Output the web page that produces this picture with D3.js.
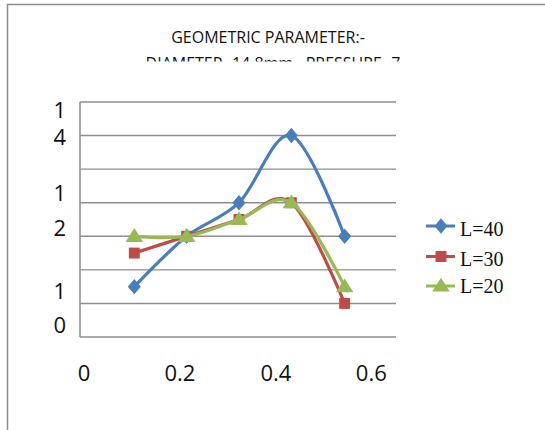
<!DOCTYPE html>
<html>
<head>
<meta charset="utf-8">
<script src="https://cdn.jsdelivr.net/npm/d3@7/dist/d3.min.js"></script>
<style>
  html, body { margin: 0; padding: 0; background: #fff; }
  svg { display: block; }
</style>
</head>
<body>
<svg id="chart" width="545" height="430"></svg>
<script>
// Flow position (x) and response (y) for three lengths
const xValues = [0.11, 0.218, 0.326, 0.434, 0.544];
const seriesNames = ["L=40", "L=30", "L=20"];
const valuesL40 = [3, 6, 8, 12, 6];
const valuesL30 = [5, 6, 7, 8, 2];
const valuesL20 = [6, 6, 7, 8, 3];
const xTicks = [0, 0.2, 0.4, 0.6];
const xTickLabels = ["0", "0.2", "0.4", "0.6"];
const yGridValues = [0, 2, 4, 6, 8, 10, 12, 14];
// y-axis labels wrap into two lines each in the narrow axis column
const yTickLabels = ["14", "12", "10"];
const titleLines = ["GEOMETRIC PARAMETER:-", "DIAMETER -14.8mm , PRESSURE -7"];

const colors = ["#4A7EBB", "#BE4B48", "#98B954"];
const allValues = [valuesL40, valuesL30, valuesL20];

const svg = d3.select("#chart");

// outer frame (left and top edges)
svg.append("path")
  .attr("d", "M7.5,430 V4.5 H545")
  .attr("fill", "none")
  .attr("stroke", "#8c8c8c")
  .attr("stroke-width", 1.5);

const plot = { left: 80, right: 396, top: 102, bottom: 337 };
const x = d3.scaleLinear().domain([0, 0.65]).range([plot.left + 1, plot.right]);
const y = d3.scaleLinear().domain([0, 14]).range([plot.bottom, plot.top]);

// title, second line clipped by the plot block
svg.append("defs").append("clipPath").attr("id", "titleClip")
  .append("rect").attr("x", 0).attr("y", 0).attr("width", 545).attr("height", 61.5);
const title = svg.append("g").attr("clip-path", "url(#titleClip)");
titleLines.forEach((t, i) => {
  title.append("text")
    .attr("x", 268 + i * 5)
    .attr("y", 42.5 + i * 26)
    .attr("text-anchor", "middle")
    .attr("font-family", "'Open Sans', sans-serif")
    .attr("font-size", 16)
    .attr("fill", "#111")
    .text(t);
});

// horizontal gridlines
svg.append("g").selectAll("line").data(yGridValues).join("line")
  .attr("x1", plot.left).attr("x2", plot.right)
  .attr("y1", d => y(d)).attr("y2", d => y(d))
  .attr("stroke", "#8e8e8e")
  .attr("stroke-width", 1.4);

// left axis line
svg.append("line")
  .attr("x1", plot.left).attr("x2", plot.left)
  .attr("y1", plot.top).attr("y2", plot.bottom)
  .attr("stroke", "#8e8e8e")
  .attr("stroke-width", 1.5);

// x axis tick labels
const xAxis = d3.axisBottom(x).tickValues(xTicks)
  .tickFormat((d, i) => xTickLabels[i]).tickSize(0).tickPadding(0);
const xg = svg.append("g").attr("transform", `translate(0,${plot.bottom})`).call(xAxis);
xg.select(".domain").remove();
xg.selectAll("text")
  .attr("dy", null)
  .attr("y", 44)
  .attr("dx", (d, i) => [2.5, 1.5, 0.5, -1][i])
  .attr("font-family", "'Open Sans', sans-serif")
  .attr("font-size", 22)
  .attr("fill", "#111");

// y axis labels, each split over two lines
const yLabelBaselines = [[118, 145], [201, 236], [299, 333]];
const yLabels = svg.append("g")
  .attr("font-family", "'Open Sans', sans-serif")
  .attr("font-size", 22)
  .attr("fill", "#111")
  .attr("text-anchor", "end");
yTickLabels.forEach((lab, i) => {
  lab.split("").forEach((ch, j) => {
    yLabels.append("text")
      .attr("x", 66)
      .attr("y", yLabelBaselines[i][j])
      .text(ch);
  });
});

// smoothed series lines
const line = d3.line()
  .x((d, i) => x(xValues[i]))
  .y(d => y(d))
  .curve(d3.curveCardinal.tension(0));

const symbols = [d3.symbolDiamond, d3.symbolSquare, d3.symbolTriangle];
const symbolSizes = [95, 120, 110];

function drawMarker(g, k, cx, cy) {
  const sym = d3.symbol().type(symbols[k]).size(symbolSizes[k]);
  const m = g.append("path")
    .attr("d", sym())
    .attr("fill", colors[k]);
  if (k === 0) {
    m.attr("transform", `translate(${cx},${cy}) scale(1.25,0.85)`);
  } else if (k === 2) {
    m.attr("transform", `translate(${cx},${cy + 1}) scale(1.1,1)`);
  } else {
    m.attr("transform", `translate(${cx},${cy})`);
  }
}

allValues.forEach((vals, k) => {
  const g = svg.append("g");
  g.append("path")
    .attr("d", line(vals))
    .attr("fill", "none")
    .attr("stroke", colors[k])
    .attr("stroke-width", 3.2)
    .attr("stroke-linejoin", "round");
  vals.forEach((v, i) => drawMarker(g, k, x(xValues[i]), y(v)));
});

// legend
const legendLineY = [226, 256.5, 286];
const legendTextY = [236, 265.5, 293];
const legend = svg.append("g");
seriesNames.forEach((name, k) => {
  legend.append("line")
    .attr("x1", 426).attr("x2", 455)
    .attr("y1", legendLineY[k]).attr("y2", legendLineY[k])
    .attr("stroke", colors[k])
    .attr("stroke-width", 3);
  drawMarker(legend, k, 441, legendLineY[k]);
  legend.append("text")
    .attr("x", 460)
    .attr("y", legendTextY[k])
    .attr("font-family", "'Liberation Serif', serif")
    .attr("font-size", 20)
    .attr("fill", "#111")
    .text(name);
});
</script>
</body>
</html>
